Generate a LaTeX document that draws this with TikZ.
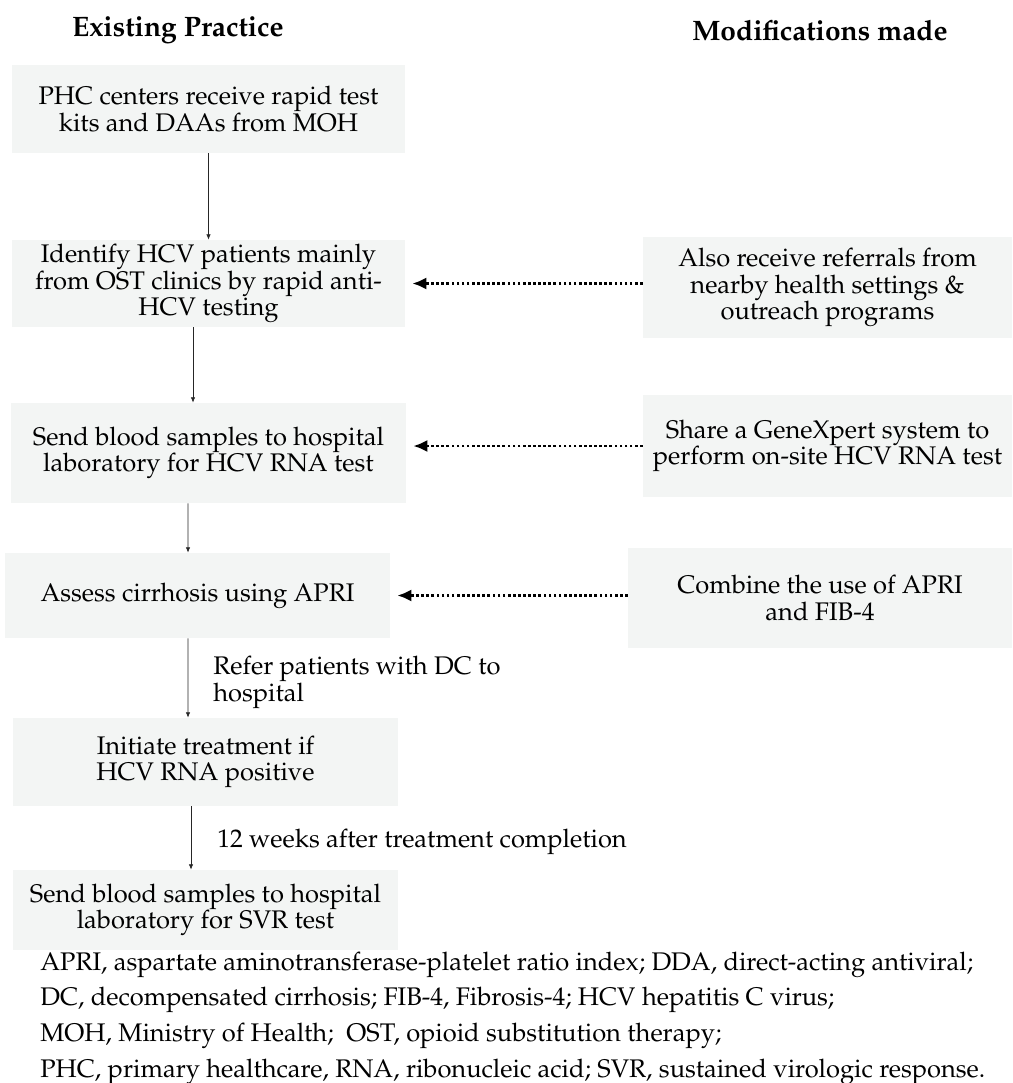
\documentclass[tikz,border=0pt]{standalone}
\usepackage[T1]{fontenc}
\usepackage{mathpazo}
\usetikzlibrary{arrows.meta}
\tikzset{>=latex}
\definecolor{boxgray}{RGB}{243,245,244}
\tikzstyle{practice}=[fill=boxgray,align=center,inner sep=0pt,
                      font=\fontsize{14.5}{15.2}\selectfont]
\tikzstyle{flow}=[-{Latex[length=3pt,width=2.5pt]},black!85,thin]
\tikzstyle{feed}=[-{Latex[length=8pt,width=7pt]},black,line width=1.6pt,
                  dash pattern=on 1.5pt off 1.4pt,shorten >=0.14cm]
\tikzstyle{note}=[align=left,inner sep=0pt,text=black,font=\fontsize{14.5}{15.5}\selectfont]

\begin{document}
\begin{tikzpicture}[x=0.02cm,y=-0.02cm]
  \useasboundingbox (0,0) rectangle (1012,1083);

  % column headings
  \node[font=\fontsize{16}{19}\selectfont\bfseries] (headL) at (178,30) {Existing Practice};
  \node[font=\fontsize{16}{19}\selectfont\bfseries] (headR) at (820,30) {Modifications made};

  % existing practice
  \node[practice,minimum width=7.86cm,minimum height=1.76cm] (phc) at (208.5,109)
    {PHC centers receive rapid test\\kits and DAAs from MOH};
  \node[practice,minimum width=7.86cm,minimum height=1.74cm] (identify) at (208.5,283.5)
    {Identify HCV patients mainly\\from OST clinics by rapid anti-\\HCV testing};
  \node[practice,minimum width=7.9cm,minimum height=2cm] (rnatest) at (208.5,453)
    {Send blood samples to hospital\\laboratory for HCV RNA test};
  \node[practice,minimum width=7.7cm,minimum height=1.7cm] (assess) at (197.5,595.5)
    {Assess cirrhosis using APRI};
  \node[practice,minimum width=7.7cm,minimum height=1.76cm] (treat) at (205.5,762)
    {Initiate treatment if\\HCV RNA positive};
  \node[practice,minimum width=7.7cm,minimum height=1.6cm] (svr) at (205.5,910)
    {Send blood samples to hospital\\laboratory for SVR test};

  % modifications
  \node[practice,minimum width=7.38cm,minimum height=2.02cm] (referral) at (827.5,287.5)
    {Also receive referrals from\\nearby health settings \&\\outreach programs};
  \node[practice,minimum width=7.38cm,minimum height=2.04cm] (genexpert) at (827.5,446)
    {Share a GeneXpert system to\\perform on-site HCV RNA test};
  \node[practice,minimum width=7.68cm,minimum height=2cm] (fib) at (820,598)
    {Combine the use of APRI\\and FIB-4};

  % flow
  \draw[flow] (phc) -- (identify);
  \draw[flow] ([xshift=-0.31cm]identify.south) -- ([xshift=-0.31cm]rnatest.north);
  \draw[flow] ([xshift=-0.41cm]rnatest.south) -- ([xshift=-0.19cm]assess.north);
  \draw[flow] ([xshift=-0.19cm]assess.south) -- node[note,anchor=west,xshift=0.5cm,yshift=-0.08cm]
    {Refer patients with DC to\\hospital} ([xshift=-0.35cm]treat.north);
  \draw[flow] ([xshift=-0.29cm]treat.south) -- node[note,anchor=west,xshift=0.52cm,yshift=-0.07cm]
    {12 weeks after treatment completion} ([xshift=-0.29cm]svr.north);

  \draw[feed] (referral.west |- identify) -- (identify.east);
  \draw[feed] (genexpert.west) -- (rnatest.east |- genexpert.west);
  \draw[feed] (fib.west |- assess) -- (assess.east);

  % abbreviations
  \node[note,anchor=west,font=\fontsize{14.5}{20.3}\selectfont] (abbr) at (40,1018)
    {APRI, aspartate aminotransferase-platelet ratio index; DDA, direct-acting antiviral;\\
     DC, decompensated cirrhosis; FIB-4, Fibrosis-4; HCV hepatitis C virus;\\
     MOH, Ministry of Health;\ \ OST, opioid substitution therapy;\\
     PHC, primary healthcare, RNA, ribonucleic acid; SVR, sustained virologic response.};
\end{tikzpicture}
\end{document}
